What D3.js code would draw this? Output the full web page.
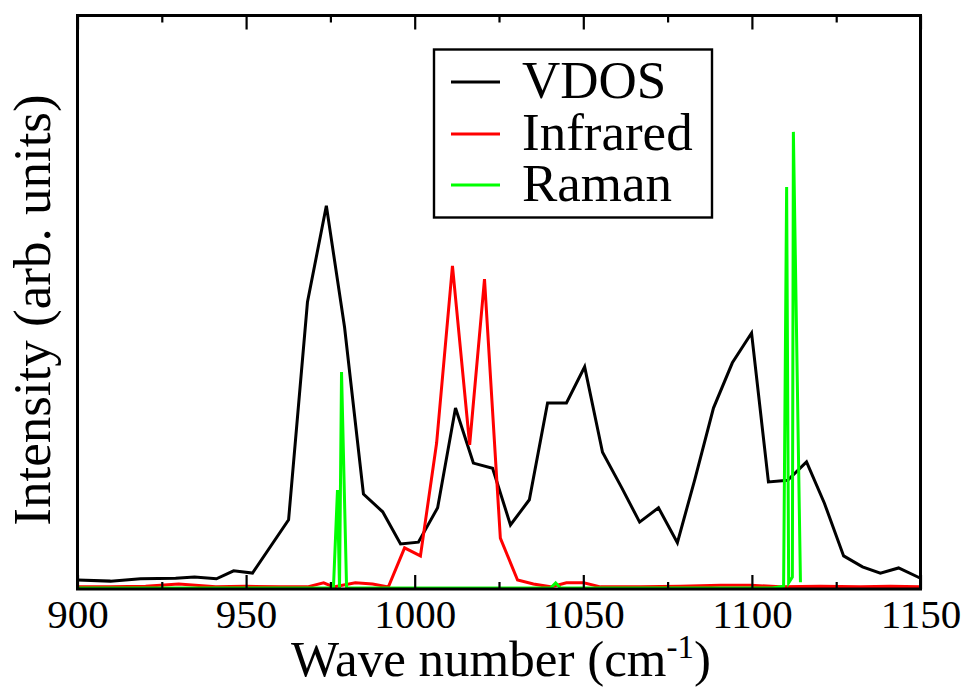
<!DOCTYPE html>
<html>
<head>
<meta charset="utf-8">
<script src="https://cdn.jsdelivr.net/npm/d3@7"></script>
<style>
  html, body { margin: 0; padding: 0; background: #fff; }
  svg { display: block; }
</style>
</head>
<body>
<svg id="chart" width="969" height="691"></svg>
<script>
// ---- data (wave number in cm^-1, intensity in arbitrary units) ----
const vdosX = [900, 909.8, 918.7, 929.1, 934.7, 941.2, 946.3, 951.9, 962.6, 968.2, 973.8, 979.2, 984.8, 990.5, 995.8, 1001.1, 1006.8, 1012.1, 1017.4, 1023.1, 1028.4, 1034.0, 1039.4, 1045.0, 1050.4, 1055.7, 1061.3, 1066.7, 1072.3, 1077.9, 1083.0, 1088.6, 1094.2, 1099.9, 1104.9, 1110.6, 1116.2, 1121.5, 1127.2, 1132.8, 1138.1, 1143.5, 1150];
const vdosY = [0.014, 0.012, 0.016, 0.017, 0.019, 0.016, 0.030, 0.026, 0.119, 0.499, 0.667, 0.455, 0.164, 0.133, 0.077, 0.080, 0.140, 0.314, 0.218, 0.209, 0.110, 0.154, 0.323, 0.323, 0.386, 0.237, 0.176, 0.115, 0.140, 0.079, 0.188, 0.314, 0.393, 0.445, 0.185, 0.188, 0.220, 0.148, 0.056, 0.037, 0.026, 0.035, 0.017];

const irX = [900, 909.8, 920.2, 930.0, 941.0, 949.8, 960.2, 968.2, 973.0, 975.9, 982.4, 987.5, 992.2, 997.0, 1001.7, 1006.5, 1011.2, 1016.3, 1020.7, 1025.4, 1030.5, 1035.2, 1040.3, 1045.0, 1050.1, 1055.1, 1067.0, 1078.8, 1090.7, 1099.6, 1108.5, 1120.3, 1132.2, 1141.1, 1150];
const irY = [0.002, 0.002, 0.003, 0.007, 0.002, 0.003, 0.002, 0.002, 0.009, 0.002, 0.009, 0.007, 0.002, 0.070, 0.056, 0.253, 0.562, 0.250, 0.539, 0.087, 0.014, 0.007, 0.002, 0.009, 0.009, 0.002, 0.002, 0.003, 0.005, 0.005, 0.002, 0.003, 0.002, 0.003, 0.002];

const ramanX = [900, 975.9, 977.1, 977.7, 978.3, 979.8, 1040.3, 1041.8, 1043.2, 1106.1, 1109.4, 1110.3, 1110.9, 1112.0, 1112.3, 1114.4];
const ramanY = [0, 0, 0.171, 0.0, 0.377, 0, 0, 0.009, 0, 0, 0.003, 0.700, 0.009, 0.019, 0.796, 0.010];

const seriesNames = ["VDOS", "Infrared", "Raman"];
const seriesColors = ["#000000", "#ff0000", "#00ff00"];
const xMajorTicks = [900, 950, 1000, 1050, 1100, 1150];
const xMinorTicks = [925, 975, 1025, 1075, 1125];
const xTitle = "Wave number (cm";
const xTitleSup = "-1";
const yTitle = "Intensity (arb. units)";

const FONT = '"Liberation Serif", "Times New Roman", serif';

// ---- layout ----
const svg = d3.select("#chart");
const L = 77.5, R = 920.5, T = 15.5, B = 589;
const x = d3.scaleLinear().domain([900, 1150]).range([L, R]);
const y = d3.scaleLinear().domain([0, 1]).range([588, 15]);

const line = d3.line().x(d => x(d[0])).y(d => y(d[1]));
const series = [
  d3.zip(vdosX, vdosY),
  d3.zip(irX, irY),
  d3.zip(ramanX, ramanY)
];

const g = svg.append("g");
series.forEach((s, i) => {
  g.append("path")
    .datum(s)
    .attr("d", line)
    .attr("fill", "none")
    .attr("stroke", seriesColors[i])
    .attr("stroke-width", 3)
    .attr("stroke-linejoin", "miter");
});

// frame
svg.append("rect")
  .attr("x", L).attr("y", T)
  .attr("width", R - L).attr("height", B - T)
  .attr("fill", "none").attr("stroke", "#000").attr("stroke-width", 3);

// bottom axis (ticks inward)
const bottomAx = svg.append("g").attr("transform", `translate(0,${B})`)
  .call(d3.axisBottom(x).tickValues(xMajorTicks).tickFormat(d3.format("d")).tickSize(-14).tickPadding(0));
bottomAx.attr("font-family", null).attr("font-size", null);
bottomAx.select(".domain").remove();
bottomAx.selectAll(".tick line").attr("stroke", "#000").attr("stroke-width", 2.2);
bottomAx.selectAll(".tick text")
  .attr("y", 39).attr("dy", 0)
  .style("font-family", FONT)
  .style("font-size", "41px").attr("fill", "#000");

const bottomMinor = svg.append("g").attr("transform", `translate(0,${B})`)
  .call(d3.axisBottom(x).tickValues(xMinorTicks).tickFormat("").tickSize(-7));
bottomMinor.select(".domain").remove();
bottomMinor.selectAll(".tick text").remove();
bottomMinor.selectAll(".tick line").attr("stroke", "#000").attr("stroke-width", 2.2);

// top axis (ticks inward)
const topAx = svg.append("g").attr("transform", `translate(0,${T})`)
  .call(d3.axisTop(x).tickValues(xMajorTicks).tickFormat("").tickSize(-14));
topAx.select(".domain").remove();
topAx.selectAll(".tick text").remove();
topAx.selectAll(".tick line").attr("stroke", "#000").attr("stroke-width", 2.2);
const topMinor = svg.append("g").attr("transform", `translate(0,${T})`)
  .call(d3.axisTop(x).tickValues(xMinorTicks).tickFormat("").tickSize(-7));
topMinor.select(".domain").remove();
topMinor.selectAll(".tick text").remove();
topMinor.selectAll(".tick line").attr("stroke", "#000").attr("stroke-width", 2.2);

// x title
const xt = svg.append("text")
  .attr("x", 501).attr("y", 676)
  .attr("text-anchor", "middle")
  .style("font-family", FONT)
  .style("font-size", "51px");
xt.append("tspan").text(xTitle);
xt.append("tspan").text(xTitleSup).attr("dy", -18).style("font-size", "33px");
xt.append("tspan").text(")").attr("dy", 18);

// y title
svg.append("text")
  .attr("transform", "translate(50,310) rotate(-90)")
  .attr("text-anchor", "middle")
  .style("font-family", FONT)
  .style("font-size", "53px")
  .text(yTitle);

// legend
const lg = svg.append("g");
lg.append("rect")
  .attr("x", 434).attr("y", 49.5)
  .attr("width", 278).attr("height", 168)
  .attr("fill", "#fff").attr("stroke", "#000").attr("stroke-width", 2.4);
const legY = [82, 134, 185];
seriesNames.forEach((n, i) => {
  lg.append("line")
    .attr("x1", 451).attr("x2", 500)
    .attr("y1", legY[i]).attr("y2", legY[i])
    .attr("stroke", seriesColors[i]).attr("stroke-width", 2.8);
  lg.append("text")
    .attr("x", 522).attr("y", legY[i] + 16)
    .style("font-family", FONT)
    .style("font-size", "53px")
    .text(n);
});
</script>
</body>
</html>
